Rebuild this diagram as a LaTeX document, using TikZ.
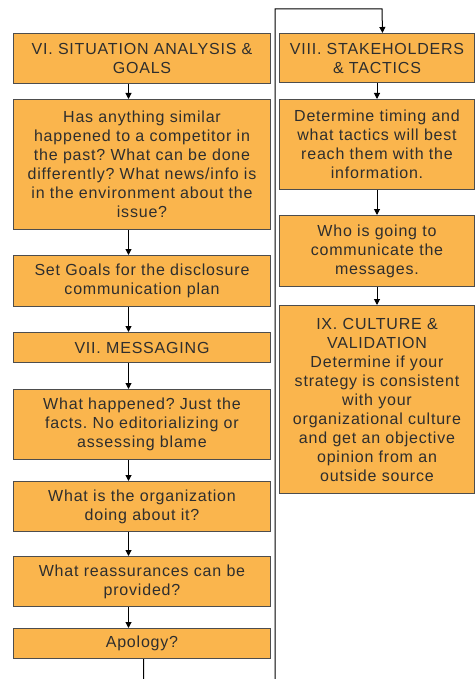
\documentclass[tikz,border=0pt]{standalone}
\usepackage{fontspec}
\setmainfont{Liberation Sans}[LetterSpace=5]
\usetikzlibrary{arrows.meta}
\definecolor{boxfill}{HTML}{FAB54D}
\definecolor{boxline}{HTML}{4D4D4D}
\definecolor{inkc}{HTML}{2E2E2E}

\begin{document}
\frenchspacing
\begin{tikzpicture}[x=1pt,y=-1pt,
  stepbox/.style={draw=boxline, line width=1pt, fill=boxfill, text=inkc,
    align=center, font=\fontsize{16}{19}\selectfont, inner sep=0pt,
    anchor=north west},
  lbox/.style={stepbox, minimum width=257pt},
  rbox/.style={stepbox, minimum width=195pt},
  link/.style={draw=black, line width=1pt},
  arr/.style={link, -{Triangle[length=6pt,width=6pt]}}
]
\useasboundingbox (0,0) rectangle (475,679);
\fill[white] (0,0) rectangle (475,679);
\clip (0,0) rectangle (475,679);

% left column
\node[lbox, minimum height=50pt]  (b1) at (13,33)  {VI. SITUATION ANALYSIS \&\\GOALS};
\node[lbox, minimum height=130pt] (b2) at (13,99)  {Has anything similar\\happened to a competitor in\\the past? What can be done\\differently? What news/info is\\in the environment about the\\issue?};
\node[lbox, minimum height=51pt]  (b3) at (13,255) {Set Goals for the disclosure\\communication plan};
\node[lbox, minimum height=30pt]  (b4) at (13,332) {VII. MESSAGING};
\node[lbox, minimum height=70pt]  (b5) at (13,389) {What happened? Just the\\facts. No editorializing or\\assessing blame};
\node[lbox, minimum height=50pt]  (b6) at (13,481) {What is the organization\\doing about it?};
\node[lbox, minimum height=50pt]  (b7) at (13,556) {What reassurances can be\\provided?};
\node[lbox, minimum height=30pt]  (b8) at (13,628) {Apology?};

% right column
\node[rbox, minimum height=49pt]  (r1) at (279,33)  {VIII. STAKEHOLDERS\\\& TACTICS};
\node[rbox, minimum height=90pt]  (r2) at (279,99)  {Determine timing and\\what tactics will best\\reach them with the\\information.};
\node[rbox, minimum height=71pt]  (r3) at (279,215) {Who is going to\\communicate the\\messages.};
\node[rbox, minimum height=188pt] (r4) at (279,305) {IX. CULTURE \&\\VALIDATION\\Determine if your\\strategy is consistent\\with your\\organizational culture\\and get an objective\\opinion from an\\outside source};

% arrows down the left column
\foreach \a/\b in {b1/b2, b2/b3, b3/b4, b4/b5, b5/b6, b6/b7, b7/b8}
  \draw[arr] ([xshift=-13.5pt]\a.south) -- ([xshift=-13.5pt]\b.north);

% arrows down the right column
\foreach \a/\b in {r1/r2, r2/r3, r3/r4}
  \draw[arr] (\a.south) -- (\b.north);

% loop from the last left box up to the top of the right column
\coordinate (turn) at (275,9);
\draw[arr] ([xshift=1.5pt]b8.south) -- ++(0,40) -| (turn) -- ++(107,0) -- ([xshift=5.5pt]r1.north);
\end{tikzpicture}
\end{document}
